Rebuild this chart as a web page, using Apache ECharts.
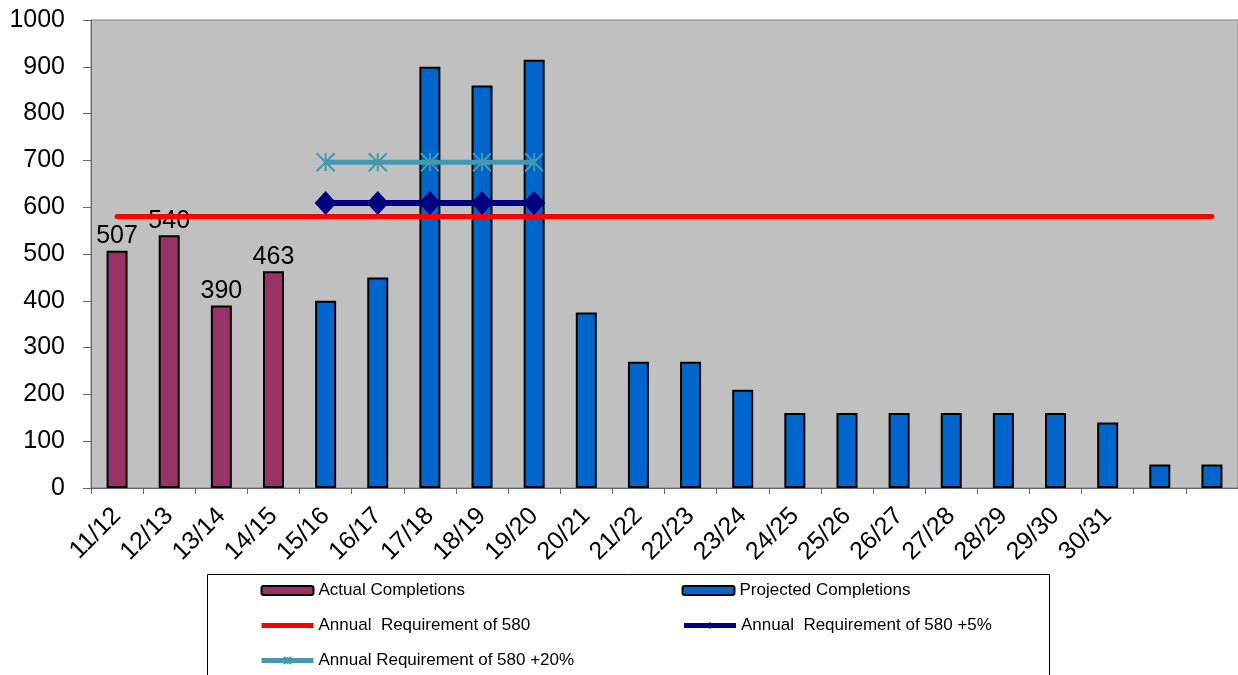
<!DOCTYPE html>
<html>
<head>
<meta charset="utf-8">
<script src="https://cdn.jsdelivr.net/npm/echarts@6/dist/echarts.min.js"></script>
<style>
html,body{margin:0;padding:0;background:#fff;}
#chart{width:1238px;height:675px;}
</style>
</head>
<body>
<div id="chart"></div>
<script>
const categories = ['11/12','12/13','13/14','14/15','15/16','16/17','17/18','18/19','19/20','20/21','21/22','22/23','23/24','24/25','25/26','26/27','27/28','28/29','29/30','30/31','',''];
const actualCompletions = [507,540,390,463,'-','-','-','-','-','-','-','-','-','-','-','-','-','-','-','-','-','-'];
const projectedCompletions = ['-','-','-','-',400,450,900,860,915,375,270,270,210,160,160,160,160,160,160,140,50,50];
const requirement580 = [580,580,580,580,580,580,580,580,580,580,580,580,580,580,580,580,580,580,580,580,580,580];
const requirement5pct = ['-','-','-','-',609,609,609,609,609,'-','-','-','-','-','-','-','-','-','-','-','-','-'];
const requirement20pct = ['-','-','-','-',696,696,696,696,696,'-','-','-','-','-','-','-','-','-','-','-','-','-'];
const yTicks = {min:0, max:1000, interval:100};

const FONT = '"Liberation Sans", Arial, sans-serif';
const TEAL = '#4499B0';
const NAVY = '#000080';
const ASTERISK = 'path://M0,0L10,10M10,0L0,10M5,0L5,10';

const chart = echarts.init(document.getElementById('chart'), null, {renderer:'canvas'});
chart.setOption({
  animation:false,
  textStyle:{fontFamily:FONT},
  grid:{left:91, right:-1, top:20, bottom:187, show:true, backgroundColor:'#C0C0C0', borderColor:'#808080', borderWidth:1},
  xAxis:{
    type:'category', data:categories, boundaryGap:true,
    axisLine:{lineStyle:{color:'#666', width:1}},
    axisTick:{show:true, length:6, lineStyle:{color:'#666'}, alignWithLabel:false, interval:0},
    axisLabel:{interval:0, rotate:45, margin:24, color:'#000', fontSize:25, fontFamily:FONT},
    splitLine:{show:false}
  },
  yAxis:{
    type:'value', min:yTicks.min, max:yTicks.max, interval:yTicks.interval,
    axisLine:{show:true, lineStyle:{color:'#666', width:1}},
    axisTick:{show:true, length:8, lineStyle:{color:'#666'}},
    axisLabel:{margin:26, color:'#000', fontSize:25, fontFamily:FONT, formatter:function(v){return String(v);}},
    splitLine:{show:false}
  },
  legend:{
    left:259, top:582, width:860, padding:0, itemWidth:52, itemHeight:9, itemGap:18,
    textStyle:{fontSize:17, fontFamily:FONT, color:'#000', width:345, lineHeight:15},
    data:[
      {name:'Actual Completions'},
      {name:'Projected Completions'},
      {name:'Annual  Requirement of 580', icon:'path://M0,0L52,0L52,5L0,5Z', itemStyle:{color:'#FF0000', borderWidth:0}},
      {name:'Annual  Requirement of 580 +5%', lineStyle:{width:5}},
      {name:'Annual Requirement of 580 +20%', lineStyle:{width:5}}
    ]
  },
  graphic:[{type:'rect', left:205, top:572, shape:{width:842, height:130}, style:{fill:'none', stroke:'#000', lineWidth:1}, z:0}],
  series:[
    {name:'Actual Completions', type:'bar', data:actualCompletions, barWidth:21, barGap:'-100%',
     itemStyle:{color:'#993366', borderColor:'#000', borderWidth:2},
     label:{show:true, position:'top', distance:2, color:'#000', fontSize:25, fontFamily:FONT}},
    {name:'Projected Completions', type:'bar', data:projectedCompletions, barWidth:21, barGap:'-100%',
     itemStyle:{color:'#0066CC', borderColor:'#000', borderWidth:2}},
    {name:'Annual  Requirement of 580', type:'line', data:requirement580, showSymbol:false, symbol:'none',
     lineStyle:{color:'#FF0000', width:5, cap:'round'}, itemStyle:{color:'#FF0000'}, z:3},
    {name:'Annual  Requirement of 580 +5%', type:'line', data:requirement5pct, symbol:'diamond', symbolSize:[22,24],
     lineStyle:{color:NAVY, width:6}, itemStyle:{color:NAVY}, z:4},
    {name:'Annual Requirement of 580 +20%', type:'line', data:requirement20pct,
     symbol:ASTERISK, symbolSize:[18,18],
     lineStyle:{color:TEAL, width:5}, itemStyle:{color:TEAL, borderColor:TEAL, borderWidth:2}, z:4}
  ]
});
</script>
</body>
</html>
